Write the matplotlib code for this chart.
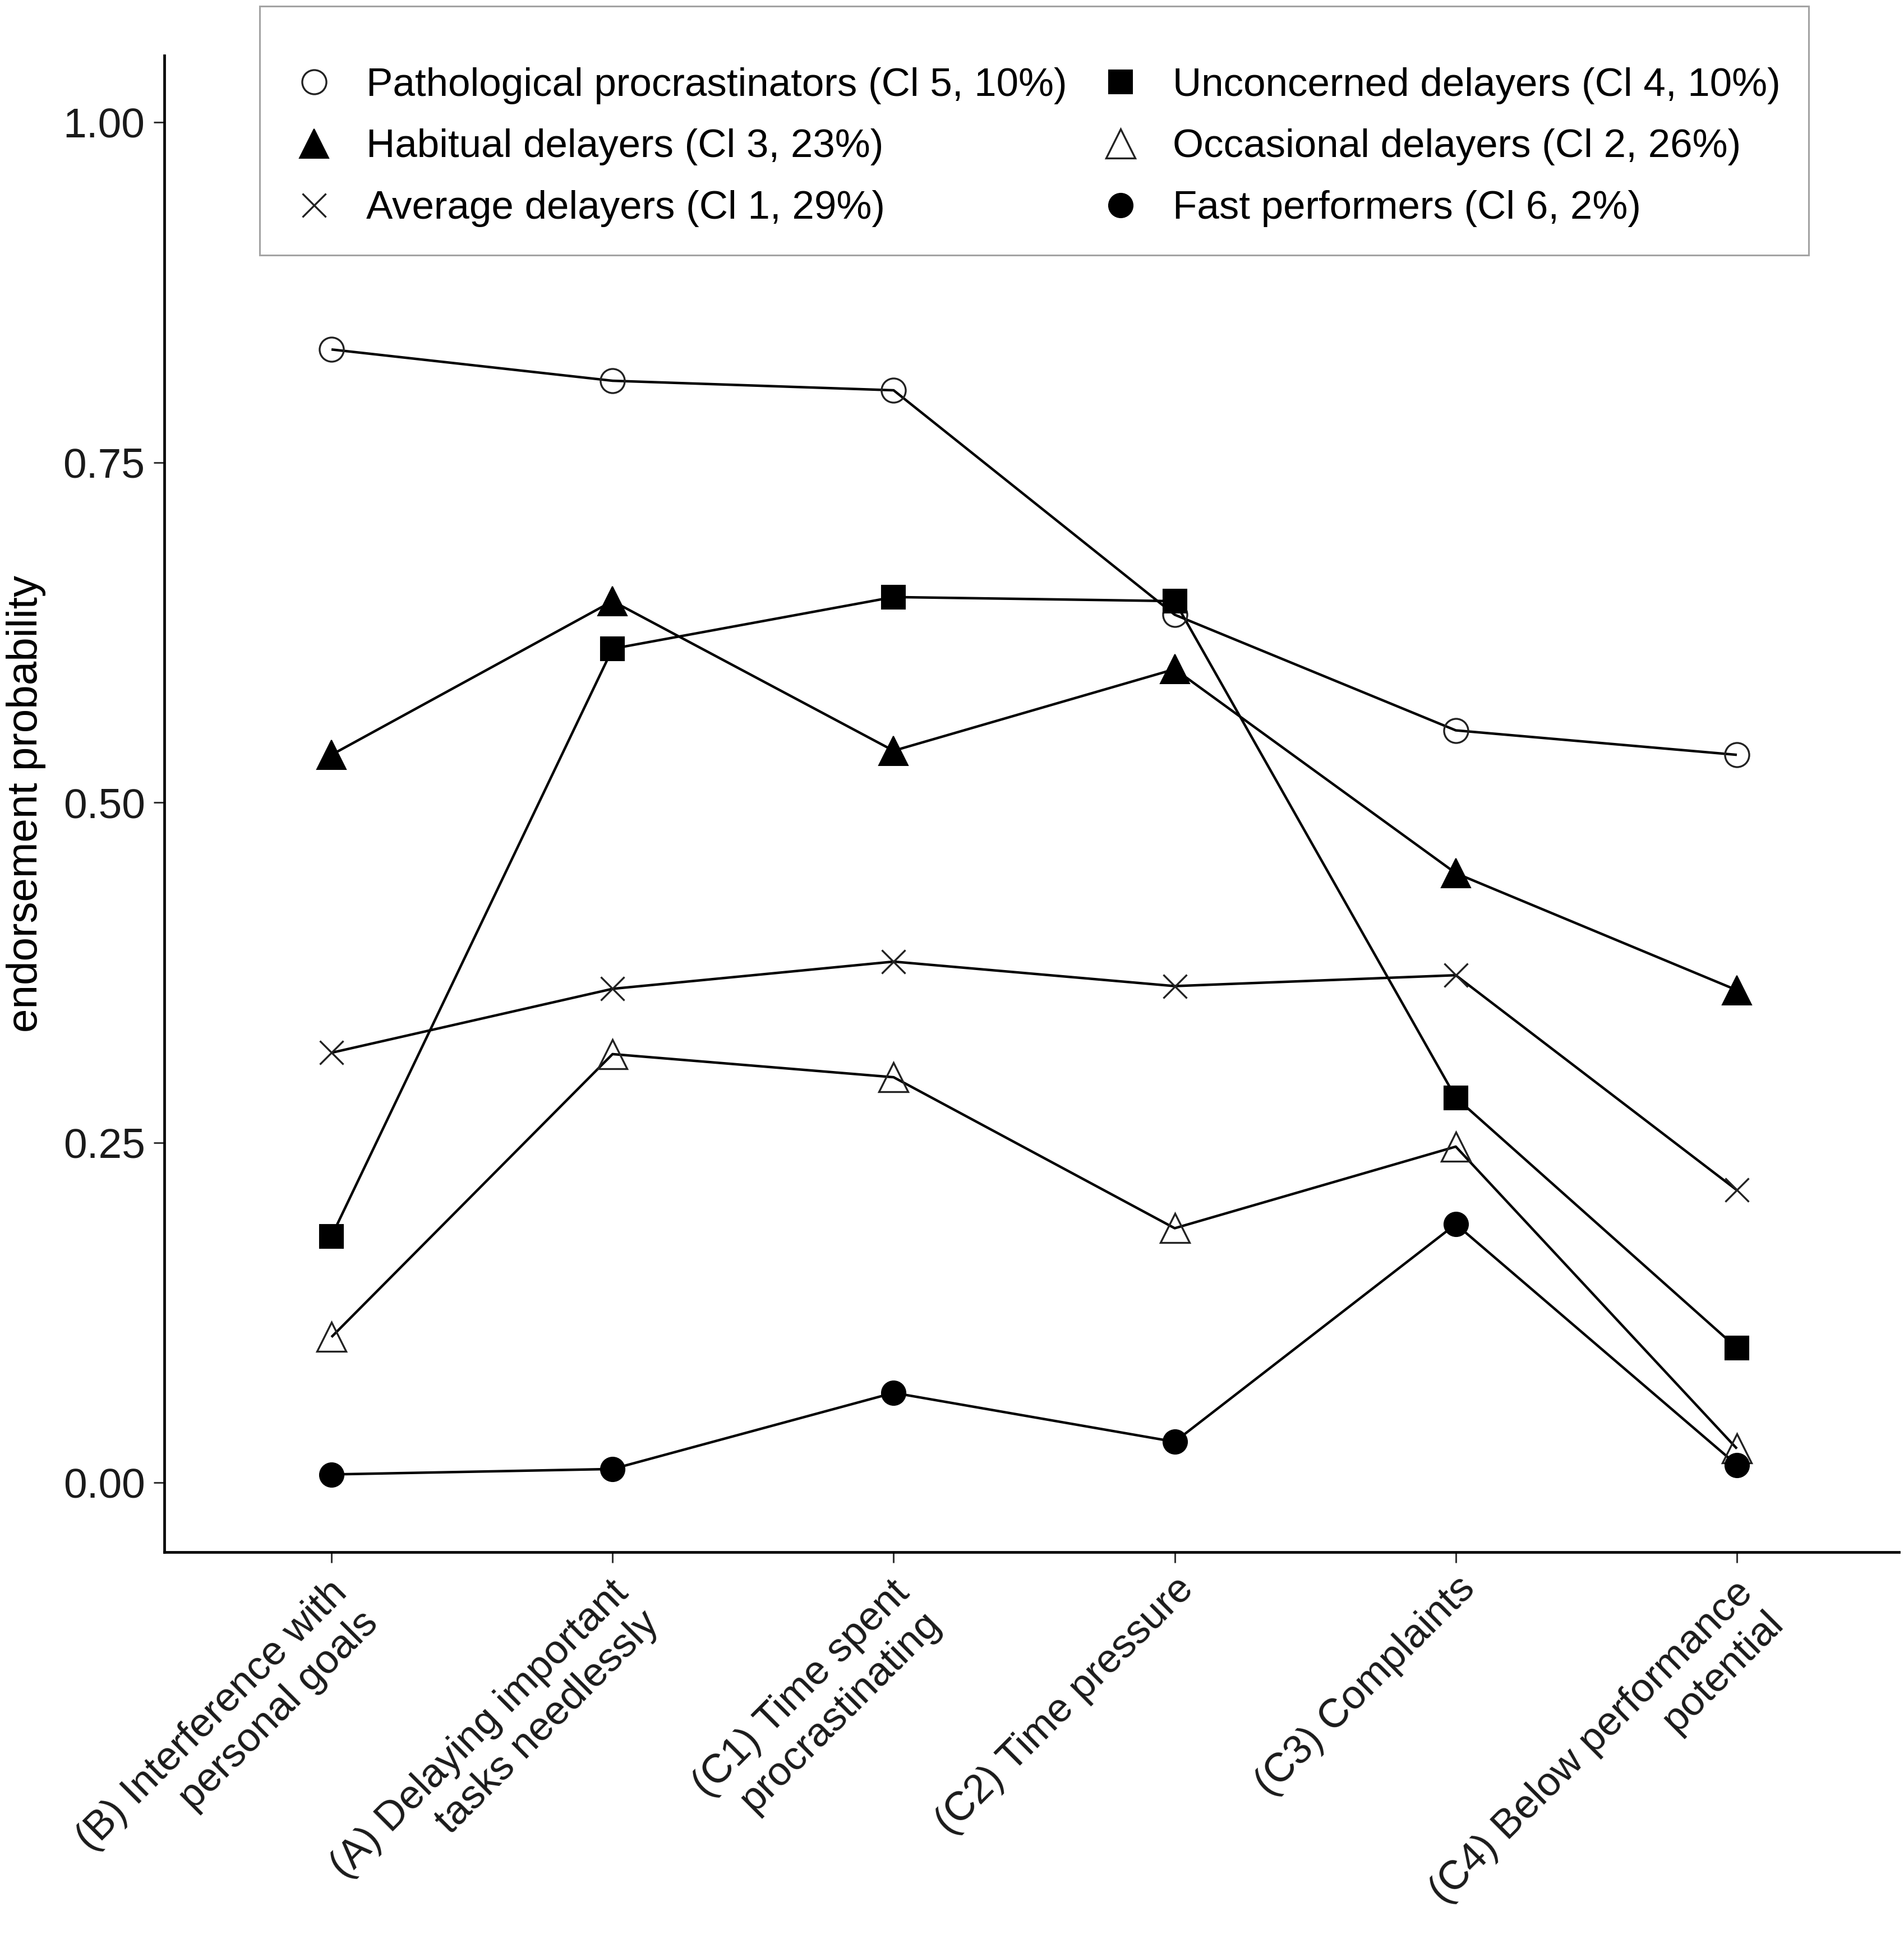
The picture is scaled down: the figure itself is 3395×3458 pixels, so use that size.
import matplotlib.pyplot as plt
from matplotlib.lines import Line2D
from matplotlib.transforms import ScaledTranslation

plt.rcParams['font.family'] = ['Liberation Sans', 'DejaVu Sans']

# item labels along the x axis
items = [
    "(B) Interference with\npersonal goals",
    "(A) Delaying important\ntasks needlessly",
    "(C1) Time spent\nprocrastinating",
    "(C2) Time pressure",
    "(C3) Complaints",
    "(C4) Below performance\npotential",
]

# endorsement probabilities per latent class
pathological = [0.833, 0.810, 0.803, 0.638, 0.553, 0.535]
unconcerned = [0.181, 0.613, 0.651, 0.648, 0.283, 0.099]
habitual = [0.535, 0.648, 0.538, 0.598, 0.448, 0.362]
occasional = [0.107, 0.315, 0.298, 0.187, 0.247, 0.025]
average = [0.316, 0.363, 0.383, 0.365, 0.373, 0.215]
fast = [0.006, 0.010, 0.066, 0.030, 0.190, 0.013]

class_names = [
    "Pathological procrastinators (Cl 5, 10%)",
    "Unconcerned delayers (Cl 4, 10%)",
    "Habitual delayers (Cl 3, 23%)",
    "Occasional delayers (Cl 2, 26%)",
    "Average delayers (Cl 1, 29%)",
    "Fast performers (Cl 6, 2%)",
]
series = [pathological, unconcerned, habitual, occasional, average, fast]

# marker style per class: (marker, size, filled)
styles = [
    ('o', 31, False),
    ('s', 30, True),
    ('^', 37, True),
    ('^', 37, False),
    ('x', 30, False),
    ('o', 31, True),
]

fig = plt.figure(figsize=(33.95, 34.58), dpi=100)
ax = fig.add_axes([0.0864, 0.1996, 0.911, 0.7717])

x = list(range(len(items)))

# lines first, then points on top (like ggplot layers)
for vals in series:
    ax.plot(x, vals, color='black', lw=3.2, solid_capstyle='butt', zorder=2)

handles = []
for vals, (m, ms, filled), name in zip(series, styles, class_names):
    if m == 'x':
        kw = dict(color='#222222', mew=2.4)
    elif filled:
        kw = dict(mfc='black', mec='black', mew=1.5)
    else:
        kw = dict(mfc='none', mec='#222222', mew=2.4)
    ax.plot(x, vals, linestyle='none', marker=m, ms=ms, zorder=3, **kw)
    handles.append(Line2D([], [], linestyle='none', marker=m, ms=ms, label=name, **kw))

ax.set_xlim(-0.594, 5.577)
ax.set_ylim(-0.051, 1.049)
ax.set_yticks([0.0, 0.25, 0.5, 0.75, 1.0])
ax.set_yticklabels(["0.00", "0.25", "0.50", "0.75", "1.00"])
ax.set_xticks(x)
ax.set_xticklabels(items, rotation=45, ha='right', va='top',
                   rotation_mode='anchor', multialignment='right')

ax.tick_params(axis='both', length=14, width=2.2, color='#333333',
               labelcolor='#1a1a1a', pad=9)
ax.tick_params(axis='x', labelsize=52)
ax.tick_params(axis='y', labelsize=54, pad=11)
ax.set_ylabel("endorsement probability", fontsize=55, color='black', labelpad=22)

for side in ['top', 'right']:
    ax.spines[side].set_visible(False)
for side in ['left', 'bottom']:
    ax.spines[side].set_linewidth(3.4)
    ax.spines[side].set_color('black')

# two-line labels sit a little lower in the original
for lab in ax.get_xticklabels():
    if '\n' in lab.get_text():
        lab.set_transform(lab.get_transform() +
                          ScaledTranslation(-0.06, -0.07, fig.dpi_scale_trans))

# legend filled row by row, two columns
order = [0, 2, 4, 1, 3, 5]
leg = fig.legend([handles[i] for i in order], [class_names[i] for i in order],
                 ncol=2, loc='upper left', bbox_to_anchor=(0.1365, 0.9968),
                 borderaxespad=0, fontsize=51, frameon=True, fancybox=False,
                 borderpad=0.7, handlelength=1.33, handletextpad=0.65,
                 columnspacing=0.68, labelspacing=0.62,
                 title=' ', title_fontsize=12)
leg.get_frame().set_edgecolor('#8c8c8c')
leg.get_frame().set_linewidth(2.2)

fig.savefig('out.png', dpi=100)
